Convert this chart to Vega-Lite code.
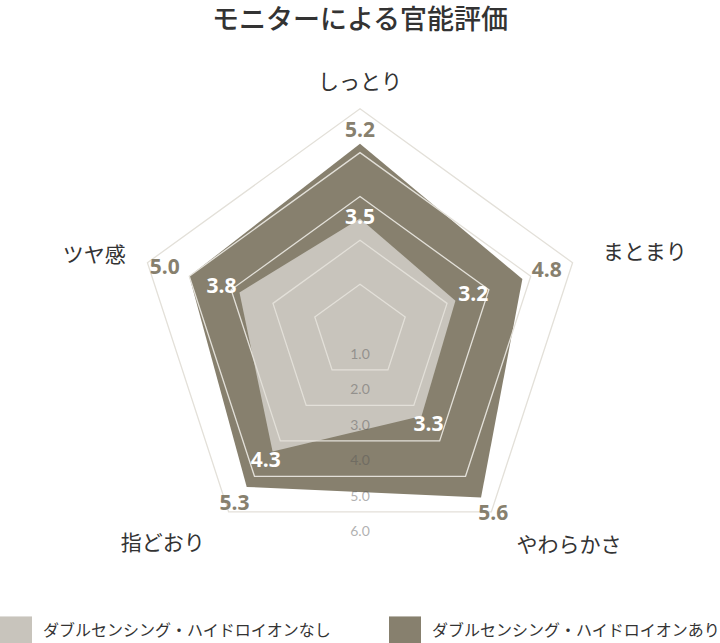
{
  "$schema": "https://vega.github.io/schema/vega-lite/v6.json",
  "width": 720,
  "height": 643,
  "autosize": {"type": "fit", "contains": "padding"},
  "padding": {"top": 7, "left": 0, "right": 0, "bottom": 0},
  "background": "white",
  "title": {
    "text": "モニターによる官能評価",
    "font": "Noto Sans CJK JP",
    "fontSize": 27,
    "fontWeight": 500,
    "color": "#333333",
    "anchor": "middle",
    "offset": 8
  },
  "datasets": {
    "scores": [
      {"series": "ダブルセンシング・ハイドロイオンなし", "item": "しっとり", "idx": 0, "value": 3.5},
      {"series": "ダブルセンシング・ハイドロイオンなし", "item": "まとまり", "idx": 1, "value": 3.2},
      {"series": "ダブルセンシング・ハイドロイオンなし", "item": "やわらかさ", "idx": 2, "value": 3.3},
      {"series": "ダブルセンシング・ハイドロイオンなし", "item": "指どおり", "idx": 3, "value": 4.3},
      {"series": "ダブルセンシング・ハイドロイオンなし", "item": "ツヤ感", "idx": 4, "value": 3.8},
      {"series": "ダブルセンシング・ハイドロイオンあり", "item": "しっとり", "idx": 0, "value": 5.2},
      {"series": "ダブルセンシング・ハイドロイオンあり", "item": "まとまり", "idx": 1, "value": 4.8},
      {"series": "ダブルセンシング・ハイドロイオンあり", "item": "やわらかさ", "idx": 2, "value": 5.6},
      {"series": "ダブルセンシング・ハイドロイオンあり", "item": "指どおり", "idx": 3, "value": 5.3},
      {"series": "ダブルセンシング・ハイドロイオンあり", "item": "ツヤ感", "idx": 4, "value": 5.0}
    ],
    "grid": [
      {"level": 2, "idx": 0}, {"level": 2, "idx": 1}, {"level": 2, "idx": 2}, {"level": 2, "idx": 3}, {"level": 2, "idx": 4},
      {"level": 3, "idx": 0}, {"level": 3, "idx": 1}, {"level": 3, "idx": 2}, {"level": 3, "idx": 3}, {"level": 3, "idx": 4},
      {"level": 4, "idx": 0}, {"level": 4, "idx": 1}, {"level": 4, "idx": 2}, {"level": 4, "idx": 3}, {"level": 4, "idx": 4},
      {"level": 5, "idx": 0}, {"level": 5, "idx": 1}, {"level": 5, "idx": 2}, {"level": 5, "idx": 3}, {"level": 5, "idx": 4},
      {"level": 6, "idx": 0}, {"level": 6, "idx": 1}, {"level": 6, "idx": 2}, {"level": 6, "idx": 3}, {"level": 6, "idx": 4}
    ],
    "ticks": [
      {"tick": "1.0", "v": 1},
      {"tick": "2.0", "v": 2},
      {"tick": "3.0", "v": 3},
      {"tick": "4.0", "v": 4},
      {"tick": "5.0", "v": 5},
      {"tick": "6.0", "v": 6}
    ]
  },
  "encoding": {
    "x": {"field": "px", "type": "quantitative", "scale": {"domain": [-8.1818, 8.1818]}, "axis": null},
    "y": {"field": "py", "type": "quantitative", "scale": {"domain": [-7.102, 6.58]}, "axis": null}
  },
  "layer": [
    {
      "data": {"name": "scores"},
      "mark": {"type": "square", "size": 16},
      "encoding": {
        "x": {"datum": 0, "type": "quantitative"},
        "y": {"datum": 0, "type": "quantitative"},
        "color": {
          "field": "series",
          "type": "nominal",
          "scale": {
            "domain": ["ダブルセンシング・ハイドロイオンなし", "ダブルセンシング・ハイドロイオンあり"],
            "range": ["#c8c4bc", "#87806e"]
          },
          "legend": {
            "orient": "none",
            "legendX": 0,
            "legendY": 572,
            "direction": "horizontal",
            "title": null,
            "symbolType": "M-1,-0.94H1V0.94H-1Z",
            "symbolSize": 1024,
            "symbolStrokeWidth": 0,
            "symbolOpacity": 1,
            "labelFont": "Noto Sans CJK JP",
            "labelFontSize": 16,
            "labelColor": "#333333",
            "labelOffset": 11,
            "labelLimit": 500,
            "columnPadding": 57,
            "padding": 0
          }
        }
      }
    },
    {
      "data": {"name": "scores"},
      "transform": [
        {"filter": "datum.series == 'ダブルセンシング・ハイドロイオンあり'"},
        {"calculate": "datum.idx * 2 * PI / 5", "as": "ang"},
        {"calculate": "datum.value - 0.92", "as": "r"},
        {"calculate": "datum.r * sin(datum.ang)", "as": "px"},
        {"calculate": "datum.r * cos(datum.ang)", "as": "py"}
      ],
      "mark": {"type": "line", "interpolate": "linear-closed", "fill": "#87806e", "strokeWidth": 0},
      "encoding": {"order": {"field": "idx", "type": "quantitative"}}
    },
    {
      "data": {"name": "scores"},
      "transform": [
        {"filter": "datum.series == 'ダブルセンシング・ハイドロイオンなし'"},
        {"calculate": "datum.idx * 2 * PI / 5", "as": "ang"},
        {"calculate": "datum.value - 0.92", "as": "r"},
        {"calculate": "datum.r * sin(datum.ang)", "as": "px"},
        {"calculate": "datum.r * cos(datum.ang)", "as": "py"}
      ],
      "mark": {"type": "line", "interpolate": "linear-closed", "fill": "#c8c4bc", "strokeWidth": 0},
      "encoding": {"order": {"field": "idx", "type": "quantitative"}}
    },
    {
      "data": {"name": "grid"},
      "transform": [
        {"calculate": "datum.idx * 2 * PI / 5", "as": "ang"},
        {"calculate": "datum.level - 0.92", "as": "r"},
        {"calculate": "datum.r * sin(datum.ang)", "as": "px"},
        {"calculate": "datum.r * cos(datum.ang)", "as": "py"}
      ],
      "mark": {"type": "line", "interpolate": "linear-closed", "stroke": "#e3e0d9", "strokeWidth": 1.3},
      "encoding": {
        "detail": {"field": "level", "type": "nominal"},
        "order": {"field": "idx", "type": "quantitative"}
      }
    },
    {
      "data": {"name": "ticks"},
      "transform": [
        {"calculate": "0", "as": "px"},
        {"calculate": "-(0.809 * datum.v - 0.277)", "as": "py"}
      ],
      "mark": {"type": "text", "font": "Lato", "fontSize": 14, "color": "#555555", "opacity": 0.45, "align": "center", "baseline": "middle"},
      "encoding": {"text": {"field": "tick"}}
    },
    {
      "data": {"name": "scores"},
      "transform": [
        {"filter": "datum.series == 'ダブルセンシング・ハイドロイオンあり'"},
        {"calculate": "datum.idx * 2 * PI / 5", "as": "ang"},
        {"calculate": "datum.value - 0.92 + 0.3 + 0.3 * abs(sin(datum.ang))", "as": "lr"},
        {"calculate": "datum.lr * sin(datum.ang)", "as": "px"},
        {"calculate": "datum.lr * cos(datum.ang)", "as": "py"}
      ],
      "mark": {"type": "text", "font": "Open Sans", "fontSize": 21, "fontWeight": "bold", "color": "#87806e", "align": "center", "baseline": "middle"},
      "encoding": {"text": {"field": "value", "type": "quantitative", "format": ".1f"}}
    },
    {
      "data": {"name": "scores"},
      "transform": [
        {"filter": "datum.series == 'ダブルセンシング・ハイドロイオンなし'"},
        {"calculate": "datum.idx * 2 * PI / 5", "as": "ang"},
        {"calculate": "datum.value - 0.92 + 0.45 * abs(sin(datum.ang))", "as": "lr"},
        {"calculate": "datum.lr * sin(datum.ang)", "as": "px"},
        {"calculate": "datum.lr * cos(datum.ang)", "as": "py"}
      ],
      "mark": {"type": "text", "font": "Open Sans", "fontSize": 21, "fontWeight": "bold", "color": "#ffffff", "align": "center", "baseline": "middle"},
      "encoding": {"text": {"field": "value", "type": "quantitative", "format": ".1f"}}
    },
    {
      "data": {"name": "scores"},
      "transform": [
        {"filter": "datum.series == 'ダブルセンシング・ハイドロイオンあり' && datum.idx == 0"},
        {"calculate": "0", "as": "px"},
        {"calculate": "5.67", "as": "py"}
      ],
      "mark": {"type": "text", "font": "Noto Sans CJK JP", "fontSize": 21, "color": "#333333", "align": "center", "baseline": "middle"},
      "encoding": {"text": {"field": "item"}}
    },
    {
      "data": {"name": "scores"},
      "transform": [
        {"filter": "datum.series == 'ダブルセンシング・ハイドロイオンあり' && (datum.idx == 1 || datum.idx == 2)"},
        {"calculate": "datum.idx * 2 * PI / 5", "as": "ang"},
        {"calculate": "datum.idx == 1 ? 5.8 : 6.05", "as": "lr"},
        {"calculate": "datum.lr * sin(datum.ang)", "as": "px"},
        {"calculate": "datum.lr * cos(datum.ang)", "as": "py"}
      ],
      "mark": {"type": "text", "font": "Noto Sans CJK JP", "fontSize": 21, "color": "#333333", "align": "left", "baseline": "middle"},
      "encoding": {"text": {"field": "item"}}
    },
    {
      "data": {"name": "scores"},
      "transform": [
        {"filter": "datum.series == 'ダブルセンシング・ハイドロイオンあり' && (datum.idx == 3 || datum.idx == 4)"},
        {"calculate": "datum.idx * 2 * PI / 5", "as": "ang"},
        {"calculate": "datum.idx == 3 ? 6.0 : 5.6", "as": "lr"},
        {"calculate": "datum.lr * sin(datum.ang)", "as": "px"},
        {"calculate": "datum.lr * cos(datum.ang)", "as": "py"}
      ],
      "mark": {"type": "text", "font": "Noto Sans CJK JP", "fontSize": 21, "color": "#333333", "align": "right", "baseline": "middle"},
      "encoding": {"text": {"field": "item"}}
    }
  ],
  "config": {
    "view": {"stroke": null}
  }
}
